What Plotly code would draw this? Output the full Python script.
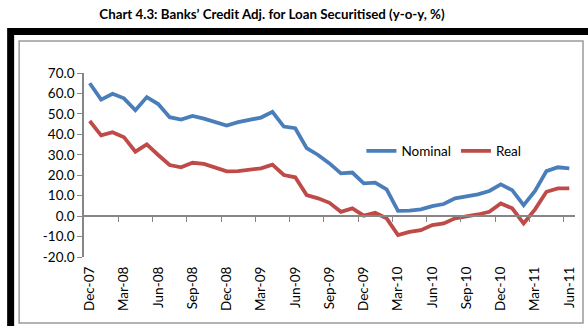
import plotly.graph_objects as go

# Monthly observations, Dec-07 .. Jun-11
months = [
    "Dec-07",
    "Jan-08", "Feb-08", "Mar-08", "Apr-08", "May-08", "Jun-08",
    "Jul-08", "Aug-08", "Sep-08", "Oct-08", "Nov-08", "Dec-08",
    "Jan-09", "Feb-09", "Mar-09", "Apr-09", "May-09", "Jun-09",
    "Jul-09", "Aug-09", "Sep-09", "Oct-09", "Nov-09", "Dec-09",
    "Jan-10", "Feb-10", "Mar-10", "Apr-10", "May-10", "Jun-10",
    "Jul-10", "Aug-10", "Sep-10", "Oct-10", "Nov-10", "Dec-10",
    "Jan-11", "Feb-11", "Mar-11", "Apr-11", "May-11", "Jun-11",
]

nominal = [
    65.0, 57.0, 59.8, 57.6, 51.8, 58.2, 54.8, 48.4, 47.2, 49.0, 47.7, 46.2,
    44.3, 46.0, 47.2, 48.2, 51.0, 43.8, 43.0, 33.2, 29.9, 25.8, 20.9, 21.3,
    16.0, 16.4, 13.1, 2.6, 2.7, 3.3, 4.9, 5.9, 8.7, 9.5, 10.6, 12.3,
    15.5, 12.7, 5.4, 12.3, 22.0, 23.9, 23.4,
]

real = [
    46.5, 39.5, 41.0, 38.6, 31.5, 35.1, 29.9, 25.0, 23.9, 26.1, 25.5, 23.9,
    21.9, 22.0, 22.5, 23.4, 25.2, 20.1, 19.0, 10.3, 8.7, 6.5, 2.1, 3.8,
    0.2, 1.6, -1.1, -9.3, -7.7, -6.9, -4.4, -3.6, -1.1, -0.3, 0.8, 2.1,
    6.2, 3.8, -3.6, 3.3, 11.9, 13.6, 13.6,
]

y_ticks = [-20, -10, 0, 10, 20, 30, 40, 50, 60, 70]
y_min, y_max = y_ticks[0], y_ticks[-1]

idx = list(range(len(months)))
label_step = 3
label_pos = idx[::label_step]
label_text = months[::label_step]
# tick marks sit between categories, every third month
boundary_ticks = [i - 0.5 for i in idx[label_step::label_step]]

FONT = "Lato"
AXIS_GREY = "#868686"

fig = go.Figure()
fig.add_trace(go.Scatter(
    x=idx, y=nominal, name="Nominal", mode="lines",
    line=dict(color="#4A7EBB", width=3.8),
    xaxis="x", yaxis="y",
))
fig.add_trace(go.Scatter(
    x=idx, y=real, name="Real", mode="lines",
    line=dict(color="#BE4B48", width=3.8),
    xaxis="x2", yaxis="y",
))

x_range = [-0.5, len(months) - 0.5]
zero_frac = (0 - y_min) / (y_max - y_min)

fig.update_layout(
    width=588, height=326,
    margin=dict(l=84, r=11, t=73, b=69),
    paper_bgcolor="white", plot_bgcolor="white",
    font=dict(family=FONT, size=13, color="#000000"),
    showlegend=True,
    title=dict(
        text="<b>Chart 4.3: Banks’ Credit Adj. for Loan Securitised (y-o-y, %)</b>",
        font=dict(family=FONT, size=13.3, color="#000000"),
        xref="container", yref="container",
        x=0.4626, xanchor="center", y=0.956, yanchor="middle",
    ),
    legend=dict(
        orientation="h",
        x=0.565, xanchor="left",
        y=0.575, yanchor="middle",
        bgcolor="rgba(0,0,0,0)",
        font=dict(family=FONT, size=13.5),
        itemwidth=30,
    ),
    xaxis=dict(
        range=x_range,
        tickmode="array", tickvals=label_pos, ticktext=label_text,
        tickangle=-90, ticks="", showline=False, showgrid=False,
        zeroline=False, anchor="y", ticklabelstandoff=6,
        tickfont=dict(family=FONT, size=13.5),
    ),
    xaxis2=dict(
        range=x_range, overlaying="x", anchor="free", position=zero_frac,
        tickmode="array", tickvals=boundary_ticks,
        ticks="outside", ticklen=5, tickwidth=1.3, tickcolor=AXIS_GREY,
        showline=True, linecolor=AXIS_GREY, linewidth=1.5,
        showticklabels=False, showgrid=False, zeroline=False,
    ),
    yaxis=dict(
        range=[y_min, y_max],
        tickmode="array", tickvals=y_ticks,
        ticktext=[f"{v:.1f}" for v in y_ticks],
        ticks="outside", ticklen=5, tickwidth=1.3, tickcolor=AXIS_GREY,
        showline=True, linecolor=AXIS_GREY, linewidth=1.5,
        showgrid=False, zeroline=False,
        tickfont=dict(family=FONT, size=13.5),
    ),
    shapes=[
        # heavy black outer frame
        dict(type="rect", xref="paper", yref="paper",
             x0=-0.1494, x1=1.08, y0=-0.5, y1=1.2255,
             line=dict(color="#000000", width=7), layer="below"),
        # thin grey chart-area border
        dict(type="rect", xref="paper", yref="paper",
             x0=-0.1321, x1=1.0163, y0=-0.3587, y1=1.1739,
             line=dict(color="#9A9A9A", width=1.5), layer="below"),
    ],
)

fig.write_html("out.html")
